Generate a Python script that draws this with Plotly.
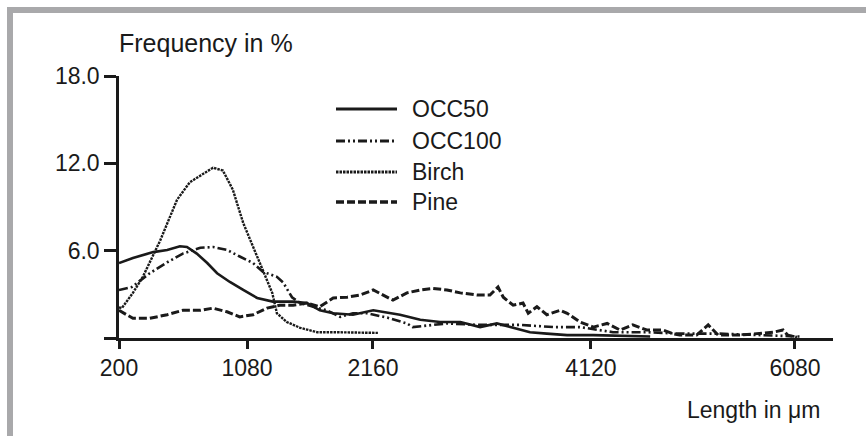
import plotly.graph_objects as go

# x = length-class index (tick labels give the class length in µm)
tick_classes = [0, 22.05, 43.75, 81.3, 116.45]
tick_labels = ["200", "1080", "2160", "4120", "6080"]

occ50_x = [0, 2.4, 5.9, 8.3, 10.5, 11.7, 13.4, 15.2, 16.9, 19.1, 21.4, 23.8, 26.5, 30.0, 32.4, 34.6,
           36.9, 40.3, 43.8, 47.2, 48.4, 51.9, 55.3, 58.8, 62.2, 65.1, 67.9, 70.8, 73.7, 77.2, 81.7,
           86.3, 91.5]
occ50_y = [5.15, 5.5, 5.9, 6.05, 6.3, 6.25, 5.8, 5.15, 4.45, 3.85, 3.3, 2.75, 2.5, 2.5, 2.4, 1.9,
           1.7, 1.6, 1.9, 1.7, 1.6, 1.25, 1.1, 1.1, 0.75, 1.0, 0.7, 0.4, 0.3, 0.2, 0.2, 0.15, 0.1]

occ100_x = [0, 2.2, 5.3, 8.3, 11.0, 14.0, 16.2, 18.6, 20.8, 23.1, 24.8, 27.2, 28.3, 29.8, 31.2,
            33.4, 35.8, 38.1, 40.3, 42.7, 46.2, 49.6, 50.6, 56.5, 62.2, 69.1, 74.8, 79.4, 85.1,
            90.9, 96.6, 103.3, 110.4, 117.3]
occ100_y = [3.3, 3.5, 4.45, 5.2, 5.8, 6.2, 6.25, 6.05, 5.6, 5.15, 4.55, 4.2, 3.8, 2.8, 2.4, 2.15,
            1.9, 1.45, 1.7, 1.7, 1.4, 1.0, 0.75, 1.0, 0.9, 0.9, 0.75, 0.75, 0.4, 0.4, 0.3, 0.3,
            0.2, 0.1]

birch_x = [0, 0.5, 2.4, 4.1, 7.1, 10.0, 12.2, 16.2, 17.9, 19.6, 21.4, 23.1, 24.8, 26.4, 27.2,
           28.9, 31.2, 34.1, 36.9, 40.7, 44.6]
birch_y = [2.1, 2.06, 3.1, 4.2, 6.7, 9.5, 10.7, 11.7, 11.5, 10.2, 7.9, 6.3, 4.7, 3.1, 1.7, 1.1,
           0.7, 0.4, 0.4, 0.35, 0.35]

pine_x = [0, 2.4, 5.3, 8.3, 11.0, 14.0, 16.2, 18.6, 20.8, 23.1, 25.5, 27.7, 30.0, 32.4, 34.6,
          36.9, 39.3, 41.5, 43.8, 46.2, 47.2, 49.6, 51.9, 54.1, 56.5, 58.8, 61.7, 63.9, 65.3,
          66.2, 67.9, 69.6, 70.5, 72.0, 73.7, 76.0, 77.2, 79.4, 81.7, 84.1, 86.3, 88.5, 90.9,
          93.7, 95.4, 96.6, 99.5, 101.5, 103.2, 107.0, 110.4, 112.7, 114.4, 115.2, 116.8]
pine_y = [1.9, 1.35, 1.35, 1.6, 1.9, 1.9, 2.05, 1.8, 1.45, 1.6, 2.05, 2.25, 2.25, 2.4, 2.15,
          2.75, 2.8, 2.95, 3.3, 2.8, 2.6, 3.1, 3.3, 3.4, 3.3, 3.1, 2.95, 2.95, 3.5, 2.8, 2.25,
          2.4, 1.7, 2.15, 1.6, 1.9, 1.7, 1.1, 0.75, 1.0, 0.55, 0.9, 0.55, 0.55, 0.3, 0.2, 0.2,
          0.9, 0.2, 0.2, 0.3, 0.4, 0.55, 0.2, 0.05]

series_names = ["OCC50", "OCC100", "Birch", "Pine"]
series_x = [occ50_x, occ100_x, birch_x, pine_x]
series_y = [occ50_y, occ100_y, birch_y, pine_y]
series_dash = ["solid", "9px,3px,2px,3px,2px,3px", "2.5px,1px", "8px,3px"]
series_width = [2.6, 2.6, 2.4, 3.0]

INK = "#1a1a1a"
FONT = "Liberation Sans, Arial, sans-serif"

fig = go.Figure()
for name, xs, ys, dash, w in zip(series_names, series_x, series_y, series_dash, series_width):
    fig.add_trace(go.Scatter(x=xs, y=ys, mode="lines", name=name,
                             line=dict(color=INK, width=w, dash=dash),
                             showlegend=False))

L, R, T, B = 119, 33, 76, 98
W, H = 866, 436
pw, ph = W - L - R, H - T - B

def px(x):
    return (x - L) / pw

def py(y):
    return (H - B - y) / ph

shapes = []
# grey frame (top and left bands)
GREY = "#a9a9ab"
shapes.append(dict(type="rect", xref="paper", yref="paper", x0=px(7), x1=px(W + 5),
                   y0=py(13), y1=py(7), fillcolor=GREY, line=dict(width=0), layer="below"))
shapes.append(dict(type="rect", xref="paper", yref="paper", x0=px(7), x1=px(13),
                   y0=py(H + 5), y1=py(7), fillcolor=GREY, line=dict(width=0), layer="below"))

# manual legend
annotations = []
leg_rows = [109, 141, 172, 202]
for name, dash, w, yy in zip(series_names, series_dash, series_width, leg_rows):
    shapes.append(dict(type="line", xref="paper", yref="paper", x0=px(336), x1=px(397),
                       y0=py(yy), y1=py(yy), line=dict(color=INK, width=w + 0.4, dash=dash)))
    annotations.append(dict(xref="paper", yref="paper", x=px(410), y=py(yy), text=name,
                            showarrow=False, xanchor="left", yanchor="middle",
                            font=dict(family=FONT, size=23, color=INK)))

annotations.append(dict(xref="paper", yref="paper", x=px(117), y=py(43), text="Frequency in %",
                        showarrow=False, xanchor="left", yanchor="middle",
                        font=dict(family=FONT, size=25, color=INK)))
annotations.append(dict(xref="paper", yref="paper", x=px(822), y=py(410), text="Length in μm",
                        showarrow=False, xanchor="right", yanchor="middle",
                        font=dict(family=FONT, size=23, color=INK)))

fig.update_layout(
    width=W, height=H, autosize=False,
    margin=dict(l=L, r=R, t=T, b=B, pad=0),
    paper_bgcolor="white", plot_bgcolor="white",
    font=dict(family=FONT, size=23, color=INK),
    shapes=shapes, annotations=annotations,
    xaxis=dict(range=[0, 123], tickvals=tick_classes, ticktext=tick_labels,
               showline=True, linewidth=2.5, linecolor=INK, ticks="outside", ticklen=8,
               tickwidth=2.5, tickcolor=INK, showgrid=False, zeroline=False,
               tickfont=dict(family=FONT, size=23, color=INK)),
    yaxis=dict(range=[0, 18], tickvals=[0, 6, 12, 18], ticktext=["", "6.0", "12.0", "18.0"],
               showline=True, linewidth=2.5, linecolor=INK, ticks="outside", ticklen=12,
               tickwidth=2.5, tickcolor=INK, showgrid=False, zeroline=False,
               tickfont=dict(family=FONT, size=23, color=INK)),
)

fig.write_html("out.html")
